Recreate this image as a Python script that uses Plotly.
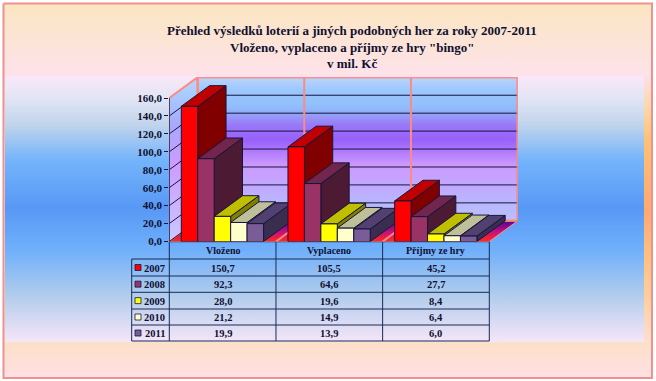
import plotly.graph_objects as go

W, H = 656, 381
TITLE = ["Přehled výsledků loterií a jiných podobných her za roky 2007-2011",
         "Vloženo, vyplaceno a příjmy ze hry \"bingo\"",
         "v mil. Kč"]
categories = ["Vloženo", "Vyplaceno", "Příjmy ze hry"]
years = ["2007", "2008", "2009", "2010", "2011"]
v2007 = [150.7, 105.5, 45.2]
v2008 = [92.3, 64.6, 27.7]
v2009 = [28.0, 19.6, 8.4]
v2010 = [21.2, 14.9, 6.4]
v2011 = [19.9, 13.9, 6.0]
series = [v2007, v2008, v2009, v2010, v2011]
tick_values = [0, 20, 40, 60, 80, 100, 120, 140, 160]

front = ["#ff0000", "#993366", "#ffff00", "#ffffcc", "#7a5c99"]
top = ["#c00000", "#73264d", "#bfbf00", "#bfbf99", "#524070"]
side = ["#800000", "#4d1a33", "#808000", "#808066", "#3a2e50"]

FONT = "Liberation Serif"
INK = "#101030"
EDGE = "#16163a"
PINK = "#ff8a80"

# chart geometry
X0, CATW = 169.3, 106.67
Y0, YPX = 241.5, 143.5 / 160
DXPX, DYPX = 28.3, 20.7
DX = DXPX / CATW
DY = DYPX / YPX
BAR = 16.45 / CATW
GAP = 12.0 / CATW
xmax = 3 + DX
ymax = 160 + DY

fig = go.Figure()


def stops(pairs):
    a, b = pairs[0][0], pairs[-1][0]
    return [[(p - a) / (b - a), c] for p, c in pairs]


def bg(x0, y0, x1, y1, pairs):
    fig.add_trace(go.Scatter(
        x=[x0, x1, x1, x0, x0], y=[y0, y0, y1, y1, y0], mode="lines",
        line=dict(width=0), fill="toself", hoverinfo="skip", showlegend=False,
        xaxis="x", yaxis="y",
        fillgradient=dict(type="vertical", start=pairs[0][0], stop=pairs[-1][0],
                          colorscale=stops(pairs))))


# page background (pixel axes)
bg(3, 3, 652, 378, [(3, "#fbe6c0"), (75, "#fde2ea"), (342, "#fde0c8"), (378, "#ffe0e4")])
bg(644, 76, 652, 342, [(76, "#fde0e6"), (105, "#fdd8b0"), (140, "#fdc274"), (210, "#ffa870"),
                       (250, "#fdbe80"), (300, "#fdd0a0"), (342, "#fde0d0")])
bg(5, 76, 644, 342, [(76, "#fae8f8"), (100, "#e0e4f4"), (125, "#c0d4ec"), (160, "#74b4fb"),
                     (208, "#5898f5"), (250, "#70b0fb"), (295, "#b0ccec"), (342, "#f6e6f8")])
fig.add_trace(go.Scatter(x=[3.5, 652, 652, 3.5, 3.5], y=[3.5, 3.5, 378, 378, 3.5], mode="lines",
                         line=dict(color="#f09090", width=2), hoverinfo="skip", showlegend=False,
                         xaxis="x", yaxis="y"))


def poly(xs, ys, fill=None, line=EDGE, width=1.0, grad=None):
    kw = dict(x=xs, y=ys, mode="lines", line=dict(color=line, width=width), hoverinfo="skip",
              showlegend=False, xaxis="x2", yaxis="y2", cliponaxis=False)
    if grad is not None:
        kw["fill"] = "toself"
        kw["fillgradient"] = dict(type="vertical", start=grad[0][0], stop=grad[-1][0], colorscale=stops(grad))
    elif fill is not None:
        kw["fill"] = "toself"
        kw["fillcolor"] = fill
    fig.add_trace(go.Scatter(**kw))


def v_of(py):
    return (Y0 - py) / YPX


wall_stops = [(v_of(241.5), "#c4c8ff"), (v_of(205), "#b8b8ff"), (v_of(165), "#cc99ff"),
              (v_of(140), "#9960fb"), (v_of(125), "#9a78f8"), (v_of(108), "#90bcfa"),
              (v_of(90), "#9cc8ff"), (v_of(76.7), "#c0d4f8")]
left_stops = [(v_of(241.5), "#c8c8ff"), (v_of(200), "#ccb0ff"), (v_of(165), "#cc9cff"),
              (v_of(125), "#a8a8fc"), (v_of(95), "#a8ccff"), (v_of(76.7), "#c0d4f8")]
floor_stops = [(0, "#ff2a1a"), (DY * 0.45, "#c8107a"), (DY, "#4a0a90")]

# floor and walls
poly([0, 3, 3 + DX, DX, 0], [0, 0, DY, DY, 0], grad=floor_stops, line=PINK, width=1)
poly([0, DX, DX, 0, 0], [0, DY, ymax, 160, 0], grad=left_stops, line=PINK, width=1.2)
poly([DX, xmax, xmax, DX, DX], [DY, DY, ymax, ymax, DY], grad=wall_stops, line=PINK, width=2)

# grid lines on walls (the 160 line is the pink wall edge)
gx, gy = [], []
for t in tick_values[:-1]:
    gx += [0, DX, xmax, None]
    gy += [t, t + DY, t + DY, None]
poly(gx, gy, line=EDGE, width=1)

# category dividers and pink wall edges, over the grid
for c in range(1, 3):
    poly([c, c + DX, c + DX], [0, DY, ymax], line=PINK, width=2)
poly([0, DX, xmax, xmax, DX, DX], [160, ymax, ymax, DY, DY, ymax], line=PINK, width=2)
poly([0, 0], [0, 160], line=EDGE, width=1.4)

# bars, painted left to right
for c in range(3):
    for s, vals in enumerate(series):
        v = vals[c]
        a = c + GAP + s * BAR
        b = a + BAR
        poly([b, b + DX, b + DX, b, b], [0, DY, v + DY, v, 0], fill=side[s])
        poly([a, a + DX, b + DX, b, a], [v, v + DY, v + DY, v, v], fill=top[s])
        poly([a, b, b, a, a], [0, 0, v, v, 0], fill=front[s])

# table, on pixel axes
COLS = [X0 + CATW * i for i in range(4)]
ROWS = [241.7, 259, 276, 292.3, 309, 325, 341]
LEFT = 131.7
tx, ty = [], []
for i, x in enumerate(COLS):
    tx += [x, x, None]
    ty += [ROWS[0], ROWS[-1], None]
tx += [LEFT, LEFT, None]
ty += [ROWS[1], ROWS[-1], None]
for j, y in enumerate(ROWS):
    tx += [COLS[0] if j == 0 else LEFT, COLS[-1], None]
    ty += [y, y, None]
fig.add_trace(go.Scatter(x=tx, y=ty, mode="lines", line=dict(color="#1a2a55", width=1),
                         hoverinfo="skip", showlegend=False, xaxis="x", yaxis="y"))
# legend keys
for j, col in enumerate(front):
    cy = (ROWS[j + 1] + ROWS[j + 2]) / 2
    fig.add_trace(go.Scatter(x=[138], y=[cy], mode="markers",
                             marker=dict(symbol="square", size=6, color=col,
                                         line=dict(color=EDGE, width=0.8)),
                             hoverinfo="skip", showlegend=False, xaxis="x", yaxis="y"))

ann = []


def text(x, y, s, size=10.5, anchor="center"):
    ann.append(dict(x=x, y=y, xref="x", yref="y", text=s, showarrow=False, xanchor=anchor, yanchor="middle",
                    font=dict(family=FONT, size=size, color=INK), ))


for i, cat in enumerate(categories):
    cx = (COLS[i] + COLS[i + 1]) / 2
    text(cx, (ROWS[0] + ROWS[1]) / 2, "<b>%s</b>" % cat, size=10)
    for j, vals in enumerate(series):
        text(cx, (ROWS[j + 1] + ROWS[j + 2]) / 2 + 0.5, "<b>%s</b>" % f"{vals[i]:.1f}".replace(".", ","))
for j, yr in enumerate(years):
    text(154.5, (ROWS[j + 1] + ROWS[j + 2]) / 2 + 0.5, "<b>%s</b>" % yr)
for line, y in zip(TITLE, [30, 47, 63]):
    text(352, y, "<b>%s</b>" % line, size=13)

fig.update_layout(
    template="none",
    width=W, height=H, autosize=False, margin=dict(l=0, r=0, t=0, b=0, autoexpand=False),
    paper_bgcolor="white", plot_bgcolor="rgba(0,0,0,0)", showlegend=False,
    separators=",.", annotations=ann,
    xaxis=dict(domain=[0, 1], range=[0, W], visible=False, fixedrange=True, automargin=False),
    yaxis=dict(domain=[0, 1], range=[H, 0], visible=False, fixedrange=True, automargin=False),
    xaxis2=dict(domain=[X0 / W, (X0 + (3 + DX) * CATW) / W], range=[0, xmax], anchor="y2",
                visible=False, fixedrange=True, automargin=False),
    yaxis2=dict(domain=[(H - Y0) / H, (H - (Y0 - ymax * YPX)) / H], range=[0, ymax], anchor="x2",
                tickmode="array", tickvals=tick_values, tickformat=".1f", ticks="outside", ticklen=4,
                tickcolor=EDGE, showgrid=False, zeroline=False, showline=False, fixedrange=True,
                automargin=False,
                tickfont=dict(family=FONT, size=11, color=INK, weight="bold")),
)
fig.write_html("out.html", post_script="document.body.style.margin='0'", config={"displayModeBar": False})
